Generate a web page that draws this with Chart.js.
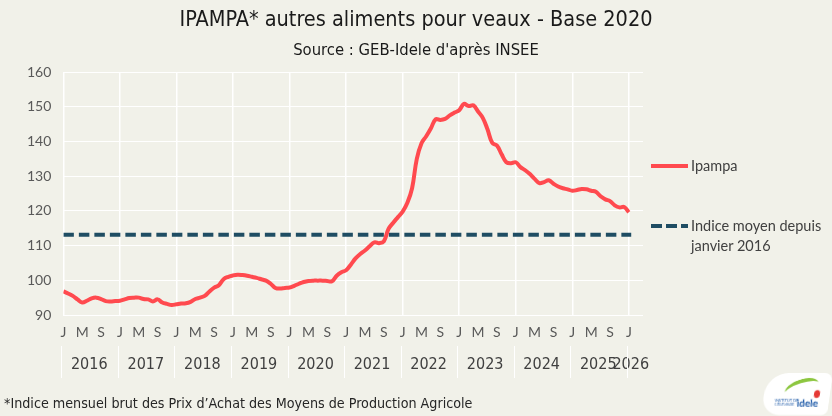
<!DOCTYPE html>
<html lang="fr">
<head>
<meta charset="UTF-8">
<title>IPAMPA autres aliments pour veaux</title>
<script src="https://cdn.jsdelivr.net/npm/chart.js"></script>
<style>
    body { margin: 0; background: #f1f1e9; }
    .wrap { position: relative; width: 832px; height: 416px; background: #f1f1e9; overflow: hidden; font-family: Lato, sans-serif; }
    .narrow { font-family: "Liberation Sans Narrow", "DejaVu Sans Condensed", sans-serif; }
    canvas { position: absolute; left: 0; top: 0; }
    .title { position: absolute; left: 0; top: 6px; width: 832px; text-align: center; font-size: 21.5px; color: #1a1a1a; }
    .subtitle { position: absolute; left: 0; top: 40px; width: 832px; text-align: center; font-size: 16.5px; color: #1a1a1a; }
    .note { position: absolute; left: 4px; top: 395px; font-size: 14.2px; color: #262626; }
    .leg { position: absolute; left: 651px; font-size: 14.5px; color: #404040; line-height: 20px; }
    .leg .swatch { position: absolute; left: 0; width: 37px; height: 4px; }
    .leg .txt { position: absolute; left: 40px; white-space: nowrap; }
    .logo { position: absolute; left: 764px; top: 373px; width: 66px; height: 42px; background: #fff; border-radius: 22px 8px 6px 18px; transform: skewX(-8deg); }
    .logo .g1 { position: absolute; left: 20px; top: 6px; width: 34px; height: 14px; border-top: 4px solid #8cc63f; border-radius: 50% 50% 0 0; transform: rotate(-18deg); }
    .logo .r { position: absolute; left: 50px; top: 17px; width: 6px; height: 8px; background: #e53935; border-radius: 50%; }
    .logo .t { position: absolute; left: 34px; top: 24px; font: bold 10px Lato, sans-serif; color: #1e5aa8; transform: skewX(8deg); }
    .logo .s { position: absolute; left: 12px; top: 26px; font: 4px Lato, sans-serif; color: #1e5aa8; line-height: 4px; transform: skewX(8deg); }
</style>
</head>
<body>
<div class="wrap">
    <canvas id="chart" width="832" height="416"></canvas>
    <div class="title narrow">IPAMPA* autres aliments pour veaux - Base 2020</div>
    <div class="subtitle narrow">Source : GEB-Idele d'après INSEE</div>
    <div class="leg" style="top:156px">
        <div class="swatch" style="top:8px;background:#ff4a4f"></div>
        <div class="txt" style="top:0">Ipampa</div>
    </div>
    <div class="leg" style="top:216px">
        <div class="swatch" style="top:8px;background:repeating-linear-gradient(90deg,#1f4d63 0 11px,transparent 11px 15px)"></div>
        <div class="txt" style="top:0">Indice moyen depuis<br>janvier 2016</div>
    </div>
    <div class="note narrow">*Indice mensuel brut des Prix d’Achat des Moyens de Production Agricole</div>
    <div class="logo"><div class="g1"></div><div class="r"></div><div class="s">INSTITUT DE<br>L'ÉLEVAGE</div><div class="t">idele</div></div>
</div>
<script>
    // mois de janvier 2016 a janvier 2026
    const years = ["2016", "2017", "2018", "2019", "2020", "2021", "2022", "2023", "2024", "2025", "2026"];
    const monthLetters = { 0: "J", 4: "M", 8: "S" };
    const ipampa = [
        96.8, 96.2, 95.5, 94.5, 93.6, 94.1, 94.8, 95.0, 94.6, 94.0, 93.9, 94.0,
        94.1, 94.5, 94.9, 95.0, 95.0, 94.6, 94.5, 93.9, 94.5, 93.6, 93.2, 92.9,
        93.1, 93.3, 93.4, 93.8, 94.6, 95.0, 95.5, 96.8, 97.9, 98.6, 100.3, 101.0,
        101.4, 101.6, 101.5, 101.3, 101.0, 100.7, 100.3, 99.9, 99.0, 97.8, 97.6, 97.8,
        97.9, 98.4, 99.0, 99.5, 99.8, 99.9, 99.9, 99.9, 99.8, 99.7, 101.3, 102.3,
        102.9, 104.5, 106.3, 107.6, 108.6, 109.8, 110.9, 110.7, 111.2, 114.8, 116.6, 118.2,
        119.8, 122.3, 126.5, 135.0, 139.5, 141.5, 143.8, 146.4, 146.2, 146.5, 147.5, 148.3,
        149.0, 150.8, 150.2, 150.4, 148.6, 146.8, 143.5, 139.6, 138.8, 136.3, 134.0, 133.7,
        134.0, 132.6, 131.7, 130.6, 129.2, 128.0, 128.3, 128.8, 127.8, 127.0, 126.5, 126.2,
        125.8, 126.0, 126.3, 126.2, 125.8, 125.5, 124.2, 123.3, 122.8, 121.6, 121.0, 121.1,
        119.6
    ];
    const indiceMoyen = 113.1;

    const lastMonth = ipampa.length - 1;

    // traits de separation entre les annees sous l'axe
    const yearSeparators = {
        id: "yearSeparators",
        afterDraw(chart) {
            const x = chart.scales.x;
            const c = chart.ctx;
            c.save();
            c.strokeStyle = "#ffffff";
            c.lineWidth = 1;
            for (let m = 0; m <= lastMonth; m += 12) {
                const px = Math.round(x.getPixelForValue(m)) - 1.5;
                c.beginPath();
                c.moveTo(px, 346);
                c.lineTo(px, 378);
                c.stroke();
            }
            c.restore();
        }
    };

    new Chart(document.getElementById("chart"), {
        type: "line",
        data: {
            datasets: [{
                label: "Ipampa",
                data: ipampa.map((v, i) => ({ x: i, y: v })),
                borderColor: "#ff4a4f",
                borderWidth: 4,
                pointRadius: 0,
                tension: 0.4,
                order: 0
            }, {
                label: "Indice moyen depuis janvier 2016",
                data: [{ x: 0, y: indiceMoyen }, { x: lastMonth + 0.5, y: indiceMoyen }],
                borderColor: "#1f4d63",
                borderWidth: 4,
                borderDash: [10.5, 5],
                pointRadius: 0,
                order: 1
            }]
        },
        options: {
            responsive: false,
            animation: false,
            layout: { padding: { left: 15, right: 189, top: 72, bottom: 37 } },
            plugins: { legend: { display: false }, tooltip: { enabled: false } },
            scales: {
                x: {
                    type: "linear",
                    min: 0,
                    max: 123,
                    weight: 0,
                    afterBuildTicks(scale) {
                        const t = [];
                        for (let m = 0; m <= lastMonth; m += 4) t.push({ value: m });
                        scale.ticks = t;
                    },
                    ticks: {
                        autoSkip: false,
                        maxRotation: 0,
                        minRotation: 0,
                        padding: 9,
                        color: "#595959",
                        font: { family: "Lato", size: 14 },
                        callback: v => monthLetters[v % 12]
                    },
                    grid: {
                        drawTicks: false,
                        lineWidth: 1.5,
                        color: c => (c.tick && c.tick.value % 12 === 0) ? "#ffffff" : "rgba(0,0,0,0)"
                    },
                    border: { display: false }
                },
                x2: {
                    type: "linear",
                    position: "bottom",
                    min: 0,
                    max: 123,
                    weight: 1,
                    afterBuildTicks(scale) {
                        scale.ticks = years.map((y, k) => ({ value: k < years.length - 1 ? k * 12 + 5.5 : lastMonth + 0.4 }));
                    },
                    ticks: {
                        autoSkip: false,
                        maxRotation: 0,
                        minRotation: 0,
                        padding: 5,
                        color: "#404040",
                        font: { family: "Liberation Sans Narrow, DejaVu Sans Condensed, sans-serif", size: 16 },
                        callback: (v, i) => years[i]
                    },
                    grid: { display: false, drawTicks: false },
                    border: { display: false }
                },
                y: {
                    min: 90,
                    max: 160,
                    ticks: {
                        stepSize: 10,
                        padding: 12,
                        color: "#595959",
                        font: { family: "Lato", size: 14 }
                    },
                    grid: {
                        drawTicks: false,
                        color: "#ffffff",
                        lineWidth: 1
                    },
                    border: { display: false }
                }
            }
        },
        plugins: [yearSeparators]
    });
</script>
</body>
</html>
